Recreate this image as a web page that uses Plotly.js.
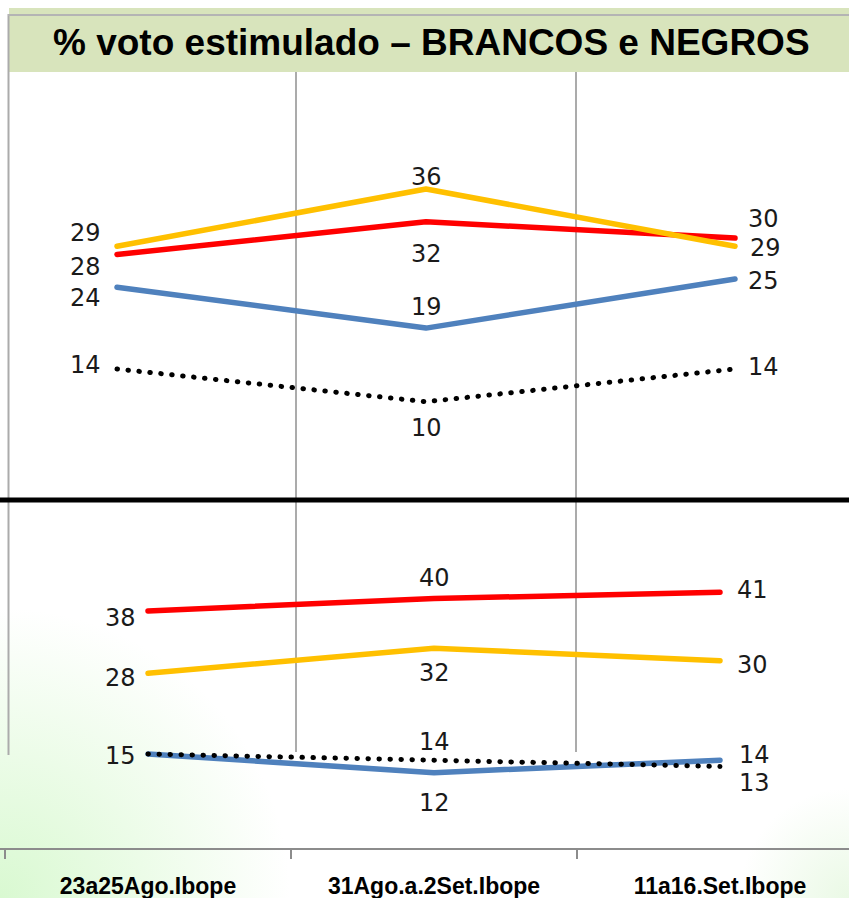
<!DOCTYPE html>
<html><head><meta charset="utf-8">
<script src="https://cdn.plot.ly/plotly-3.0.1.min.js"></script>
<style>
html,body{margin:0;padding:0;}
body{width:849px;height:898px;overflow:hidden;background:
 radial-gradient(circle at 0% 100%, #d9f9d1 0px, rgba(255,255,255,0) 290px),
 radial-gradient(circle at 100% 100%, #eaf9e5 0px, rgba(255,255,255,0) 110px), #ffffff;}
#chart{width:849px;height:898px;}
.scatterlayer .js-line{stroke-linecap:round;stroke-linejoin:round;}
</style></head><body><div id="chart"></div>
<script>
// ---- data ----
const categories = ['23a25Ago.Ibope', '31Ago.a.2Set.Ibope', '11a16.Set.Ibope'];
const chartTitle = '% voto estimulado – BRANCOS e NEGROS';
// BRANCOS (top panel)
const brancosAmarelo   = [29, 36, 29];
const brancosVermelho  = [28, 32, 30];
const brancosAzul      = [24, 19, 25];
const brancosPontos    = [14, 10, 14];
// NEGROS (bottom panel)
const negrosVermelho   = [38, 40, 41];
const negrosAmarelo    = [28, 32, 30];
const negrosAzul       = [15, 12, 14];
const negrosPontos     = [15, 14, 13];

// ---- styling / label placement (pixels) ----
const W = 849, H = 898;
const COL = {yellow:'#FFC000', red:'#FF0000', blue:'#4F81BD', dot:'#000000'};
const labelFont = {family:'DejaVu Sans, Open Sans, sans-serif', size:24, color:'#1a1a1a'};

const series = [
  // top panel
  {vals:brancosVermelho,  col:COL.red,    dash:'solid', ax:['x','y'],  off:[[-32,13],[0,32],[28,-19]]},
  {vals:brancosAzul,      col:COL.blue,   dash:'solid', ax:['x','y'],  off:[[-32,11],[0,-21],[28,2]]},
  {vals:brancosPontos,    col:COL.dot,    dash:'dot',   ax:['x','y'],  off:[[-32,-4],[0,26],[28,-2]]},
  {vals:brancosAmarelo,   col:COL.yellow, dash:'solid', ax:['x','y'],  off:[[-32,-13],[0,-12],[30,2]]},
  // bottom panel
  {vals:negrosVermelho,   col:COL.red,    dash:'solid', ax:['x2','y2'], off:[[-28,7],[0,-21],[32,-2]]},
  {vals:negrosAmarelo,    col:COL.yellow, dash:'solid', ax:['x2','y2'], off:[[-28,5],[0,25],[32,4]]},
  {vals:negrosAzul,       col:COL.blue,   dash:'solid', ax:['x2','y2'], off:[[-28,2],[0,30],[34,-5]]},
  {vals:negrosPontos,     col:COL.dot,    dash:'dot',   ax:['x2','y2'], off:[null,[0,-18],[34,17]]}
];

const traces = series.map(s => ({
  type:'scatter', mode:'lines', x:categories, y:s.vals,
  xaxis:s.ax[0], yaxis:s.ax[1], hoverinfo:'skip', showlegend:false,
  line:{color:s.col, width: s.dash==='dot' ? 5 : 5.5,
        dash: s.dash==='dot' ? '0.5px,10.5px' : 'solid'}
}));

const annotations = [];
series.forEach(s => {
  s.vals.forEach((v, i) => {
    const o = s.off[i];
    if (!o) return;
    annotations.push({
      xref:s.ax[0], yref:s.ax[1], x:categories[i], y:v, text:String(v),
      showarrow:false, xanchor:'center', yanchor:'middle',
      xshift:o[0], yshift:-o[1], font:labelFont, borderpad:0
    });
  });
});
annotations.push({
  xref:'paper', yref:'paper', x:432/W, y:1-42/H, xanchor:'center', yanchor:'middle',
  text:chartTitle, showarrow:false,
  font:{family:'Liberation Sans Narrow, Arial Narrow, Liberation Sans, sans-serif', size:37, color:'#000', weight:'bold'}
});

const px = x => x / W, py = y => 1 - y / H;
const grid = '#ABABAB';
const shapes = [
  {type:'rect', xref:'paper', yref:'paper', x0:px(9), x1:px(849), y0:py(8), y1:py(72), fillcolor:'#D8E4BC', line:{width:0}, layer:'below'},
  {type:'line', xref:'paper', yref:'paper', x0:px(8), x1:px(849), y0:py(15), y1:py(15), line:{color:'#B4B4B4', width:2}},
  {type:'line', xref:'paper', yref:'paper', x0:px(8.5), x1:px(8.5), y0:py(14), y1:py(755), line:{color:grid, width:2}, layer:'below'},
  {type:'line', xref:'paper', yref:'paper', x0:px(296), x1:px(296), y0:py(72), y1:py(752), line:{color:grid, width:2}, layer:'below'},
  {type:'line', xref:'paper', yref:'paper', x0:px(576), x1:px(576), y0:py(72), y1:py(752), line:{color:grid, width:2}, layer:'below'},
  {type:'line', xref:'paper', yref:'paper', x0:0, x1:1, y0:py(500), y1:py(500), line:{color:'#000', width:5}}
];

const hidden = {showgrid:false, zeroline:false, showticklabels:false, ticks:'', showline:false, fixedrange:true};

const layout = {
  width:W, height:H, autosize:false,
  margin:{l:0, r:0, t:0, b:0, pad:0},
  paper_bgcolor:'rgba(0,0,0,0)', plot_bgcolor:'rgba(0,0,0,0)',
  showlegend:false,
  xaxis: Object.assign({type:'category', domain:[0,1], range:[-117/309, (849-117)/309], anchor:'y'}, hidden),
  yaxis: Object.assign({domain:[py(500), py(72)], range:[14-131/8.18, 14+297/8.18], anchor:'x'}, hidden),
  xaxis2: {type:'category', domain:[0,1], range:[-148/286, (849-148)/286], anchor:'y2',
           showgrid:false, zeroline:false, showline:true, linecolor:'#8C8C8C', linewidth:2,
           ticks:'outside', ticklen:9, tickwidth:2, tickcolor:'#8C8C8C', tickson:'boundaries',
           ticklabelstandoff:16,
           tickfont:{family:'Liberation Sans Narrow, Arial Narrow, Liberation Sans, sans-serif', size:23, color:'#000', weight:'bold'},
           fixedrange:true},
  yaxis2: Object.assign({domain:[py(848), py(500)], range:[15-94/6.22, 15+254/6.22], anchor:'x2'}, hidden),
  shapes:shapes, annotations:annotations
};

Plotly.newPlot('chart', traces, layout, {displayModeBar:false, staticPlot:true});
</script></body></html>
